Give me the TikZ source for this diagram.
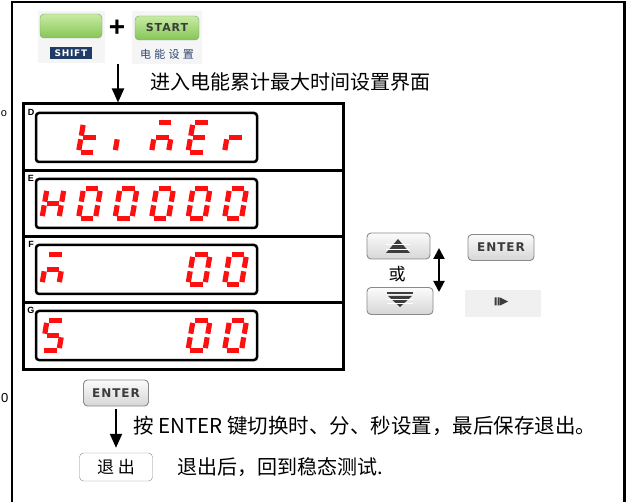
\documentclass[tikz,border=0pt]{standalone}
\usepackage{fontspec}
\setmainfont{Liberation Sans}
\newfontfamily\cjk{Noto Sans CJK SC}
\newfontfamily\cjkwide[LetterSpace=30]{Noto Sans CJK SC}
\newfontfamily\keyfont[LetterSpace=8]{DejaVu Sans}
\usetikzlibrary{arrows.meta,positioning}
\definecolor{LedRed}{HTML}{FF1010}
\definecolor{KeyGreenTop}{HTML}{C8EBA4}
\definecolor{KeyGreenBot}{HTML}{86C656}
\definecolor{KeyGreenLine}{HTML}{7C9C66}
\definecolor{KeyGrayTop}{HTML}{FBFBFB}
\definecolor{KeyGrayBot}{HTML}{D6D6D6}
\definecolor{KeyGrayLine}{HTML}{8A8A8A}
\definecolor{Navy}{HTML}{1F3C66}
\definecolor{LabelBlue}{HTML}{2E4670}
\definecolor{IconGray}{HTML}{3C3C3C}

% seven segment digit: #1 centre, #2 lit segments
\newcommand{\segdigit}[2]{%
  \begin{scope}[shift={#1}, xslant=0.17]
    \coordinate (a1) at (-6.3,-14.8); \coordinate (a2) at (6.3,-14.8);
    \coordinate (b1) at (8.5,-12.6);  \coordinate (b2) at (8.5,-1.8);
    \coordinate (c1) at (8.5,1.8);    \coordinate (c2) at (8.5,12.6);
    \coordinate (d1) at (-6.3,14.8);  \coordinate (d2) at (6.3,14.8);
    \coordinate (e1) at (-8.5,1.8);   \coordinate (e2) at (-8.5,12.6);
    \coordinate (f1) at (-8.5,-12.6); \coordinate (f2) at (-8.5,-1.8);
    \coordinate (g1) at (-6.3,0);     \coordinate (g2) at (6.3,0);
    \foreach \s in {#2} \draw[segline] (\s1) -- (\s2);
  \end{scope}}

\begin{document}
\begin{tikzpicture}[x=1pt, y=-1pt,
    segline/.style={line width=5.2pt, LedRed},
    greenkey/.style={draw=KeyGreenLine, rounded corners=4pt, top color=KeyGreenTop, bottom color=KeyGreenBot,
      minimum height=24pt, inner sep=0pt, font=\keyfont\bfseries\fontsize{11}{11}\selectfont, text=IconGray},
    graykey/.style={draw=KeyGrayLine, line width=0.9pt, rounded corners=4pt, top color=KeyGrayTop, bottom color=KeyGrayBot,
      inner sep=0pt, font=\keyfont\bfseries\fontsize{12}{12}\selectfont, text=IconGray},
    rowbox/.style={draw, line width=3pt, minimum width=320pt, minimum height=66.25pt, inner sep=0pt},
    lcd/.style={draw, fill=white, line width=2.5pt, rounded corners=3pt, minimum width=221pt, minimum height=49pt, inner sep=0pt},
    rowtag/.style={font=\bfseries\fontsize{9}{9}\selectfont, inner sep=0pt},
    bigarrow/.style={line width=2pt, -{Triangle[length=14pt, width=12pt]}},
    note/.style={font=\cjk\fontsize{20}{24}\selectfont, inner sep=0pt, anchor=west}]
  \useasboundingbox (0,0) rectangle (626,502);

  % outer frame, open at the bottom
  \draw[line width=2.5pt] (12,530) -- (12,2) -- (624.5,2) -- (624.5,530);
  \node[font=\fontsize{11}{11}\selectfont, inner sep=0pt] (strayo) at (4,114) {o};
  \node[font=\fontsize{13}{13}\selectfont, inner sep=0pt, anchor=west] (strayzero) at (1,398) {0};

  % key combination
  \fill[black!4] (38,11) rectangle (105,63);
  \fill[black!4] (132,11) rectangle (202,64);
  \node[greenkey, minimum width=62pt] (shiftkey) at (71,26) {};
  \node[fill=Navy, text=white, font=\keyfont\bfseries\fontsize{9}{9}\selectfont, minimum width=42pt, minimum height=12pt,
        inner sep=0pt, below=9pt of shiftkey] (shifttag) {SHIFT};
  \node[font=\bfseries\fontsize{28}{28}\selectfont, inner sep=0pt] (plus) at (117,28) {+};
  \node[greenkey, minimum width=64pt] (startkey) at (167,28) {START};
  \node[font=\cjkwide\fontsize{11}{12}\selectfont, text=LabelBlue, inner sep=0pt, below=9pt of startkey] (starttag) {电能设置};

  \coordinate (arrowtop) at (118,64);
  \node[note] (entertimer) at (150,82) {进入电能累计最大时间设置界面};

  % display panel
  \foreach \tag [count=\i from 0] in {D,E,F,G} {
    \node[rowbox] (row\tag) at (183,{137.125+66.25*\i}) {};
    \node[lcd] (lcd\tag) at (146.5,{137.5+66*\i}) {};
    \node[rowtag] (tag\tag) at (31,{112+66.25*\i}) {\tag};
  }
  \draw[bigarrow] (arrowtop) -- (arrowtop |- rowD.north);

  % t i m E r
  \segdigit{(89.5,137.5)}{d,e,f,g}
  \segdigit{(126,137.5)}{e}
  \segdigit{(162.5,137.5)}{a,c,e,g}
  \segdigit{(199,137.5)}{a,d,e,f,g}
  \segdigit{(235.5,137.5)}{e,g}
  % H00000
  \segdigit{(53,203.5)}{b,c,e,f,g}
  \foreach \px in {89.5,126,162.5,199,235.5}{
    \segdigit{(\px,203.5)}{a,b,c,d,e,f}
  }
  % m 00
  \segdigit{(53,269.5)}{a,c,e,g}
  \foreach \px in {199,235.5}{
    \segdigit{(\px,269.5)}{a,b,c,d,e,f}
  }
  % S 00
  \segdigit{(53,335.5)}{a,c,d,f,g}
  \foreach \px in {199,235.5}{
    \segdigit{(\px,335.5)}{a,b,c,d,e,f}
  }

  % up / down keys
  \node[graykey, minimum width=63pt, minimum height=26pt] (upkey) at (398.5,246) {};
  \fill[IconGray] (386,253) -- (398,239) -- (410,253) -- cycle;
  \draw[white, line width=0.8pt] (386,244.5) -- (410,244.5) (386,249) -- (410,249);
  \node[graykey, minimum width=66pt, minimum height=27pt] (downkey) at (400,301) {};
  \fill[IconGray] (387,292) rectangle (413,294.5);
  \fill[IconGray] (388,296) -- (412,296) -- (400,307) -- cycle;
  \draw[white, line width=0.8pt] (387,299.5) -- (413,299.5) (387,303) -- (413,303);
  \node[font=\cjk\fontsize{17}{17}\selectfont, inner sep=0pt] (orlabel) at (397,274) {或};
  \coordinate (dtop) at (439,248);
  \coordinate (dbot) at (439,292);
  \draw[line width=2pt, {Triangle[length=11pt, width=11pt]}-{Triangle[length=11pt, width=11pt]}] (dtop) -- (dbot);

  \node[graykey, minimum width=66pt, minimum height=26pt] (enterkey) at (501,247.5) {ENTER};
  \node[fill=black!6, minimum width=76pt, minimum height=27pt, inner sep=0pt] (playpad) at (503,303.5) {};
  \fill[IconGray] (494.5,297.5) rectangle (496.5,305.5) (497.5,297.5) rectangle (499.5,305.5);
  \fill[IconGray] (500,297.5) -- (508,301.5) -- (500,305.5) -- cycle;

  % leaving
  \node[graykey, minimum width=65pt, minimum height=26pt] (enterkeyb) at (116,393) {ENTER};
  \node[draw=KeyGrayLine, fill=white, rounded corners=4pt, minimum width=73pt, minimum height=28pt, inner sep=0pt,
        font=\cjk\fontsize{17}{17}\selectfont] (exitkey) at (116,467) {退 出};
  \draw[bigarrow] ([yshift=-3pt]enterkeyb.south) -- ([yshift=5pt]exitkey.north);
  \node[note, font=\cjk\fontsize{20.5}{24}\selectfont] (steptext) at (133,426) {按 ENTER 键切换时、分、秒设置，最后保存退出。};
  \node[note] (exittext) at (177,467) {退出后，回到稳态测试.};
\end{tikzpicture}
\end{document}
